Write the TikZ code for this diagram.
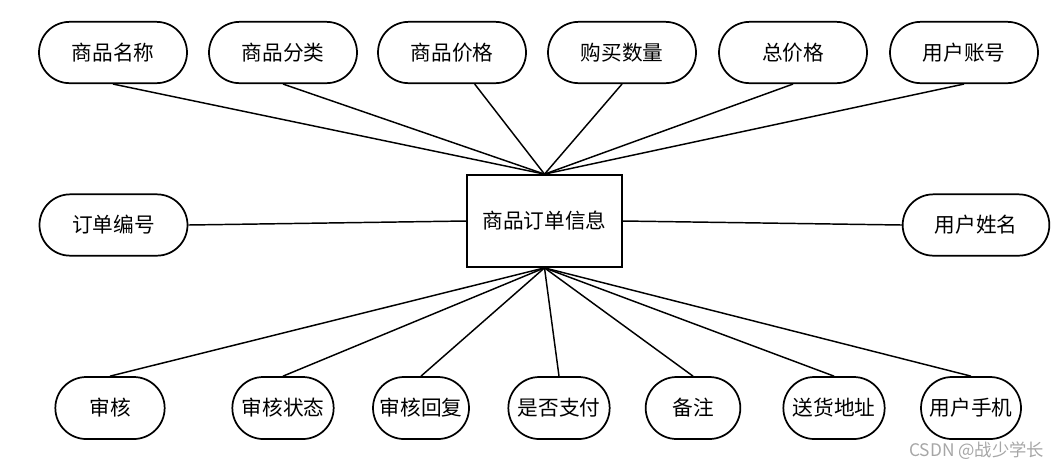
\documentclass[tikz,border=0pt]{standalone}
\usepackage{fontspec}
\setmainfont{Noto Sans CJK SC}
\usetikzlibrary{shapes.misc}

\begin{document}
\begin{tikzpicture}[x=0.75pt, y=-0.75pt, line width=1.1pt,
    attr/.style={draw, rounded rectangle, line width=1.3pt, minimum height=46pt, inner sep=2pt, font=\fontsize{15.5}{18}\selectfont},
    entity/.style={draw, rectangle, line width=1.3pt, minimum width=116pt, minimum height=69pt, font=\fontsize{15.5}{18}\selectfont}]
        \useasboundingbox (0,0) rectangle (1062,469);

        % Entity
        \node[entity] (info) at (544.5,221) {商品订单信息};

        % Top attributes
        \foreach \i/\x/\dx/\t in {1/113/0/商品名称, 2/283/0/商品分类, 3/452/17/商品价格, 4/622/0/购买数量, 5/793/0/总价格, 6/964/0/用户账号} {
            \node[attr, minimum width=115pt] (top\i) at (\x,52.5) {\t};
            \draw ([xshift=\dx pt]top\i.south) -- (info.north);
        }

        % Side attributes
        \node[attr, minimum width=115pt] (orderno) at (113.5,225) {订单编号};
        \node[attr, minimum width=114pt] (username) at (976,225) {用户姓名};
        \draw (orderno.east) -- (info.west);
        \draw (info.east) -- (username.west);

        % Bottom attributes
        \foreach \i/\x/\w/\t in {1/110/86/审核, 2/283/80/审核状态, 3/421/76/审核回复, 4/559/80/是否支付, 5/693/75/备注, 6/834/80/送货地址, 7/971/79/用户手机} {
            \node[attr, minimum width=\w pt, minimum height=46.5pt] (bot\i) at (\x,408) {\t};
            \draw (info.south) -- (bot\i.north);
        }

        % Watermark
        \node[text=black!35, font=\fontsize{13}{15}\selectfont, anchor=east, inner sep=0pt] (mark) at (1045,451) {CSDN @战少学长};

    \end{tikzpicture}
\end{document}
